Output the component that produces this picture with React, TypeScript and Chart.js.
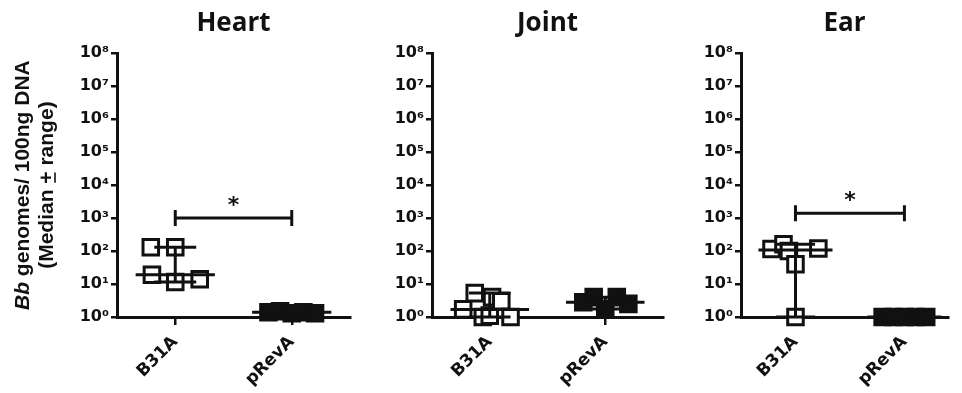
import React, { useEffect, useRef } from 'react';
import { Chart, registerables } from 'chart.js';
Chart.register(...registerables);

// ---------- data ----------
const categories = ['B31A', 'pRevA'];
const yTickExponents = [0, 1, 2, 3, 4, 5, 6, 7, 8];
const superDigits = ['⁰', '¹', '²', '³', '⁴', '⁵', '⁶', '⁷', '⁸'];
const panelTitles = ['Heart', 'Joint', 'Ear'];

// Heart
const heartB31A = [130, 130, 19, 11.5, 14];
const heartB31AJitter = [-0.21, 0, -0.2, 0, 0.21];
const heartPRevA = [1.4, 1.5, 1.3, 1.4, 1.3];
const heartPRevAJitter = [-0.2, -0.1, 0, 0.1, 0.2];
const heartSignificance = 1000;

// Joint
const jointB31A = [1.7, 5.3, 1.0, 1.1, 4.0, 3.0, 1.0];
const jointB31AJitter = [-0.23, -0.13, -0.06, 0.0, 0.02, 0.1, 0.18];
const jointPRevA = [2.8, 4.0, 1.75, 4.0, 2.5];
const jointPRevAJitter = [-0.19, -0.1, 0, 0.1, 0.2];

// Ear
const earB31A = [115, 160, 100, 40, 120, 1.0];
const earB31AJitter = [-0.22, -0.11, -0.06, 0, 0.21, 0];
const earPRevA = [1, 1, 1, 1, 1];
const earPRevAJitter = [-0.2, -0.1, 0, 0.1, 0.2];
const earSignificance = 1400;

const INK = '#111111';

function median(a: number[]) {
  const s = [...a].sort((p, q) => p - q);
  const m = Math.floor(s.length / 2);
  return s.length % 2 ? s[m] : (s[m - 1] + s[m]) / 2;
}

function groupDatasets(values: number[], jitter: number[], center: number, filled: boolean) {
  const med = median(values);
  const mn = Math.min(...values);
  const mx = Math.max(...values);
  const lineBase = {
    type: 'line' as const,
    borderColor: INK,
    borderWidth: 3,
    pointRadius: 0,
    fill: false,
    clip: false as const,
    order: 1,
  };
  return [
    {
      type: 'scatter' as const,
      data: values.map((v, i) => ({ x: center + jitter[i], y: v })),
      pointStyle: 'rect',
      pointRadius: 11,
      borderWidth: 3,
      borderColor: INK,
      backgroundColor: filled ? INK : '#ffffff',
      clip: false as const,
      order: 2,
    },
    { ...lineBase, data: [{ x: center - 0.34, y: med }, { x: center + 0.34, y: med }] },
    { ...lineBase, data: [{ x: center, y: mn }, { x: center, y: mx }] },
    { ...lineBase, data: [{ x: center - 0.18, y: mx }, { x: center + 0.18, y: mx }] },
    { ...lineBase, data: [{ x: center - 0.18, y: mn }, { x: center + 0.18, y: mn }] },
  ];
}

const sigPlugin = {
  id: 'sigBar',
  afterDatasetsDraw(chart: any, _args: any, opts: any) {
    if (!opts || !opts.value) return;
    const { ctx, scales } = chart;
    const x1 = scales.x.getPixelForValue(1);
    const x2 = scales.x.getPixelForValue(2);
    const y = scales.y.getPixelForValue(opts.value);
    ctx.save();
    ctx.strokeStyle = INK;
    ctx.lineWidth = 3;
    ctx.beginPath();
    ctx.moveTo(x1, y);
    ctx.lineTo(x2, y);
    ctx.moveTo(x1, y - 8);
    ctx.lineTo(x1, y + 8);
    ctx.moveTo(x2, y - 8);
    ctx.lineTo(x2, y + 8);
    ctx.stroke();
    ctx.fillStyle = INK;
    ctx.font = 'bold 22px "DejaVu Sans"';
    ctx.textAlign = 'center';
    ctx.textBaseline = 'middle';
    ctx.fillText('*', (x1 + x2) / 2, y - 12);
    ctx.restore();
  },
};

const yTitlePlugin = {
  id: 'yTitleRich',
  afterDraw(chart: any, _args: any, opts: any) {
    if (!opts || !opts.show) return;
    const ctx = chart.ctx;
    const cy = (chart.chartArea.top + chart.chartArea.bottom) / 2;
    ctx.save();
    ctx.fillStyle = INK;
    ctx.strokeStyle = INK;
    ctx.textBaseline = 'alphabetic';
    ctx.textAlign = 'left';
    const f1i = 'italic bold 21px "Liberation Sans"';
    const f1 = 'bold 21px "Liberation Sans"';
    const segs1: [string, string][] = [['Bb', f1i], [' genomes/ 100ng DNA', f1]];
    ctx.translate(29, cy);
    ctx.rotate(-Math.PI / 2);
    let total = 0;
    for (const [t, f] of segs1) { ctx.font = f; total += ctx.measureText(t).width; }
    let x = -total / 2;
    for (const [t, f] of segs1) { ctx.font = f; ctx.fillText(t, x, 0); x += ctx.measureText(t).width; }
    ctx.font = f1;
    const a = '(Median ', b = '+', c = ' range)';
    const wa = ctx.measureText(a).width, wb = ctx.measureText(b).width, wc = ctx.measureText(c).width;
    const x2 = -(wa + wb + wc) / 2;
    ctx.fillText(a, x2, 24);
    ctx.fillText(b, x2 + wa, 24);
    ctx.lineWidth = 1.6;
    ctx.beginPath();
    ctx.moveTo(x2 + wa + 1, 26);
    ctx.lineTo(x2 + wa + wb - 1, 26);
    ctx.stroke();
    ctx.fillText(c, x2 + wa + wb, 24);
    ctx.restore();
  },
};

interface PanelProps {
  title: string;
  left: number;
  width: number;
  yWidth: number;
  padRight: number;
  xMax: number;
  b31a: number[];
  b31aJ: number[];
  prev: number[];
  prevJ: number[];
  sig?: number;
  showYTitle?: boolean;
}

function Panel(p: PanelProps) {
  const ref = useRef<HTMLCanvasElement>(null);
  useEffect(() => {
    if (!ref.current) return;
    const yTickFont = { family: '"DejaVu Sans"', weight: 'bold' as const, size: 16 };
    const xTickFont = { family: '"DejaVu Sans"', weight: 'bold' as const, size: 17 };
    const chart = new Chart(ref.current, {
      type: 'scatter',
      data: {
        datasets: [
          ...groupDatasets(p.b31a, p.b31aJ, 1, false),
          ...groupDatasets(p.prev, p.prevJ, 2, true),
        ] as any,
      },
      options: {
        responsive: false,
        animation: false,
        devicePixelRatio: 1,
        layout: { padding: { left: 0, right: p.padRight, top: 0, bottom: 0 } },
        plugins: {
          legend: { display: false },
          tooltip: { enabled: false },
          title: {
            display: true,
            text: p.title,
            fullSize: false,
            color: INK,
            font: { family: '"Open Sans"', weight: 'bold', size: 26, lineHeight: 1.2 },
            padding: { top: 8, bottom: 14 },
          },
          sigBar: { value: p.sig },
          yTitleRich: { show: !!p.showYTitle },
        } as any,
        scales: {
          x: {
            type: 'linear',
            min: 0.5,
            max: p.xMax,
            afterBuildTicks: (s: any) => {
              s.ticks = categories.map((_, i) => ({ value: i + 1 }));
            },
            afterFit: (s: any) => {
              s.height = 76;
              s.paddingLeft = 0;
              s.paddingRight = 0;
            },
            ticks: {
              callback: (v: any) => categories[Math.round(Number(v)) - 1] ?? '',
              minRotation: 45,
              maxRotation: 45,
              autoSkip: false,
              font: xTickFont,
              color: INK,
              padding: 7,
            },
            grid: { drawOnChartArea: false, drawTicks: true, tickLength: 8, color: INK, lineWidth: 2.5 },
            border: { display: true, color: INK, width: 3 },
          },
          y: {
            type: 'logarithmic',
            min: 1,
            max: 1e8,
            afterBuildTicks: (s: any) => {
              s.ticks = yTickExponents.map((e) => ({ value: Math.pow(10, e), major: true }));
            },
            afterFit: (s: any) => {
              s.width = p.yWidth;
            },
            ticks: {
              callback: (v: any) => '10' + superDigits[Math.round(Math.log10(Number(v)))],
              autoSkip: false,
              font: yTickFont,
              color: INK,
              padding: 2,
            },
            grid: { drawOnChartArea: false, drawTicks: true, tickLength: 6, color: INK, lineWidth: 2.5 },
            border: { display: true, color: INK, width: 3 },
          },
        } as any,
      },
      plugins: [sigPlugin, yTitlePlugin],
    });
    return () => chart.destroy();
  }, []);
  return (
    <canvas
      ref={ref}
      width={p.width}
      height={393}
      style={{ position: 'absolute', left: p.left, top: 0, display: 'block' }}
    />
  );
}

export default function App() {
  return (
    <div style={{ position: 'absolute', left: 0, top: 0, width: 962, height: 393, overflow: 'hidden', background: '#fff' }}>
      <Panel title={panelTitles[0]} left={0} width={370} yWidth={117} padRight={20} xMax={2.5}
        b31a={heartB31A} b31aJ={heartB31AJitter} prev={heartPRevA} prevJ={heartPRevAJitter}
        sig={heartSignificance} showYTitle />
      <Panel title={panelTitles[1]} left={370} width={310} yWidth={62} padRight={17} xMax={2.5}
        b31a={jointB31A} b31aJ={jointB31AJitter} prev={jointPRevA} prevJ={jointPRevAJitter} />
      <Panel title={panelTitles[2]} left={680} width={282} yWidth={61} padRight={0} xMax={2.4}
        b31a={earB31A} b31aJ={earB31AJitter} prev={earPRevA} prevJ={earPRevAJitter}
        sig={earSignificance} />
    </div>
  );
}
